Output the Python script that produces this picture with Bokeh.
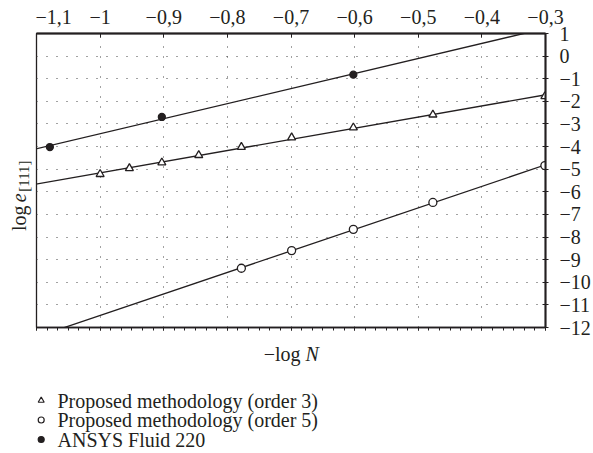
import numpy as np
from bokeh.plotting import figure
from bokeh.layouts import column, row
from bokeh.models import (LinearAxis, FixedTicker, CustomJSTickFormatter,
                          Range1d, SingleIntervalTicker)
from bokeh.embed import file_html
from bokeh.resources import INLINE

# ---- data ----
x_ticks = [-1.1, -1.0, -0.9, -0.8, -0.7, -0.6, -0.5, -0.4, -0.3]
y_ticks = [1, 0, -1, -2, -3, -4, -5, -6, -7, -8, -9, -10, -11, -12]

order3_x = [-1.0, -0.954, -0.903, -0.845, -0.778, -0.699, -0.602, -0.477, -0.301]
order3_y = [-5.22, -4.96, -4.71, -4.38, -4.02, -3.60, -3.16, -2.59, -1.78]

order5_x = [-0.778, -0.699, -0.602, -0.477, -0.301]
order5_y = [-9.38, -8.60, -7.66, -6.47, -4.84]

ansys_x = [-1.079, -0.903, -0.602]
ansys_y = [-4.02, -2.69, -0.82]

labels = ["Proposed methodology (order 3)",
          "Proposed methodology (order 5)",
          "ANSYS Fluid 220"]

FONT = "Liberation Serif"
INK = "#231f20"
FS = "20px"

# ---------------- main chart ----------------
p = figure(width=558, height=338, output_backend="svg", toolbar_location=None,
           x_range=Range1d(-1.1, -0.3), y_range=Range1d(-12, 1),
           x_axis_location="above", y_axis_location="right",
           min_border_left=1, min_border_right=45, min_border_top=33,
           min_border_bottom=11, background_fill_color="white",
           border_fill_color="white")

fmt = CustomJSTickFormatter(code="""
const v = Math.round(tick*10)/10;
return String(v).replace('-', '\\u2212').replace('.', ',');
""")

top = p.xaxis[0]
top.ticker = FixedTicker(ticks=x_ticks)
top.formatter = fmt
top.major_tick_in = 4
top.major_tick_out = 0
top.minor_tick_line_color = None
top.major_label_standoff = 10
top.axis_line_width = 2
top.axis_line_color = INK
top.major_tick_line_color = INK
top.major_label_text_font = FONT
top.major_label_text_font_size = FS
top.major_label_text_color = INK

right = p.yaxis[0]
right.ticker = FixedTicker(ticks=y_ticks)
right.formatter = fmt
right.major_tick_in = 3
right.major_tick_out = 3
right.minor_tick_line_color = None
right.major_label_standoff = 11
right.axis_line_width = 2
right.axis_line_color = INK
right.major_tick_line_color = INK
right.major_label_text_font = FONT
right.major_label_text_font_size = FS
right.major_label_text_color = INK

bottom = LinearAxis(ticker=SingleIntervalTicker(interval=0.1, num_minor_ticks=6),
                    formatter=CustomJSTickFormatter(code="return '';"))
bottom.major_tick_in = 0
bottom.major_tick_out = 3
bottom.minor_tick_in = 0
bottom.minor_tick_out = 3
bottom.axis_line_width = 1.3
bottom.axis_line_color = INK
bottom.major_tick_line_color = INK
bottom.minor_tick_line_color = INK
bottom.major_label_standoff = 0
bottom.major_label_text_font_size = "1px"
p.add_layout(bottom, "below")

p.outline_line_color = INK
p.outline_line_width = 1.3

p.xgrid.ticker = FixedTicker(ticks=x_ticks)
p.ygrid.ticker = FixedTicker(ticks=y_ticks)
for g in (p.xgrid[0], p.ygrid[0]):
    g.grid_line_color = "#444444"
    g.grid_line_dash = "1 9"
    g.grid_line_width = 1

# fitted trend lines and markers
xl = np.array([-1.12, -0.28])
series = [(order3_x, order3_y, "triangle", "white", 8),
          (order5_x, order5_y, "circle", "white", 8),
          (ansys_x, ansys_y, "circle", INK, 7)]
for xs, ys, marker, fill, size in series:
    k, b = np.polyfit(xs, ys, 1)
    p.line(xl, k * xl + b, line_color=INK, line_width=1.3)
    p.scatter(xs, ys, marker=marker, size=size, fill_color=fill,
              line_color=INK, line_width=1.3)

# ---------------- y-axis title strip ----------------
yl = figure(width=35, height=338, output_backend="svg", toolbar_location=None,
            x_range=Range1d(0, 35), y_range=Range1d(338, 0),
            x_axis_type=None, y_axis_type=None, min_border=0,
            outline_line_color=None)
yl.grid.visible = False
yl.text(x=[18], y=[227], text=["log"], angle=np.pi / 2, text_align="left",
        text_baseline="alphabetic", text_font=FONT, text_font_size=FS,
        text_color=INK)
yl.text(x=[18], y=[194], text=["e"], angle=np.pi / 2, text_align="left",
        text_baseline="alphabetic", text_font=FONT, text_font_size=FS,
        text_font_style="italic", text_color=INK)
yl.text(x=[23], y=[182], text=["[111]"], angle=np.pi / 2, text_align="left",
        text_baseline="alphabetic", text_font=FONT, text_font_size="15px",
        text_color=INK)

# ---------------- x title + legend strip ----------------
bt = figure(width=593, height=115, output_backend="svg", toolbar_location=None,
            x_range=Range1d(0, 593), y_range=Range1d(453, 338),
            x_axis_type=None, y_axis_type=None, min_border=0,
            outline_line_color=None)
bt.grid.visible = False
bt.text(x=[300], y=[353], text=["\u2212log"], text_align="right",
        text_baseline="alphabetic", text_font=FONT, text_font_size=FS,
        text_color=INK)
bt.text(x=[305], y=[353], text=["N"], text_align="left",
        text_baseline="alphabetic", text_font=FONT, text_font_size=FS,
        text_font_style="italic", text_color=INK)

leg_rows = [400, 419.5, 439]
leg_markers = [("triangle", "white", 6), ("circle", "white", 6), ("circle", INK, 6)]
for yy, lab, (marker, fill, size) in zip(leg_rows, labels, leg_markers):
    bt.scatter([40.7], [yy], marker=marker, size=size, fill_color=fill,
               line_color=INK, line_width=1.2)
    bt.text(x=[57], y=[yy], text=[lab], text_align="left",
            text_baseline="middle", text_font=FONT, text_font_size=FS,
            text_color=INK)

layout = column(row(yl, p, spacing=0), bt, spacing=0)
open("out.html", "w").write(file_html(layout, INLINE))
